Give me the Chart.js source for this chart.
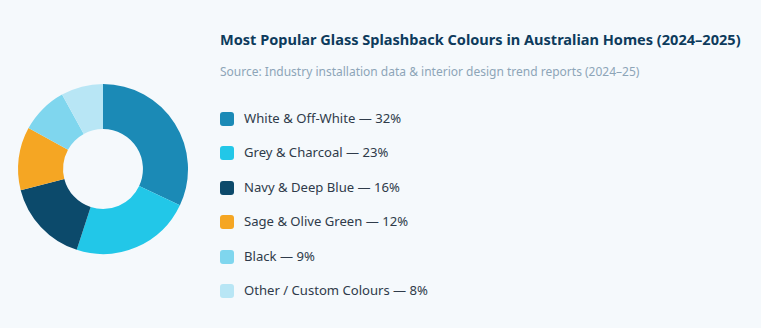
<html>
    <head>
        <script src="https://cdn.jsdelivr.net/npm/chart.js@4"></script>
        <style>
            body { margin: 0; background-color: #f5f9fc; font-family: "Noto Sans", sans-serif; }
            #wrap { position: relative; width: 761px; height: 328px; }
            #pie { position: absolute; left: 13px; top: 79px; width: 180px; height: 180px; }
            #title { position: absolute; left: 220px; top: 29px; font-size: 14.55px; font-weight: bold; color: #0d3b5c; white-space: nowrap; }
            #source { position: absolute; left: 220px; top: 63px; font-size: 12px; color: #8da5b8; white-space: nowrap; }
            #legend { position: absolute; left: 220px; top: 109px; }
            .item { height: 34.4px; display: flex; align-items: flex-start; font-size: 13.1px; color: #2f3b4a; }
            .box { width: 14px; height: 14px; border-radius: 3px; margin-top: 3px; margin-right: 10px; }
        </style>
    </head>

    <body>
        <div id="wrap">
            <div id="pie"><canvas id="plot"></canvas></div>
            <div id="title">Most Popular Glass Splashback Colours in Australian Homes (2024–2025)</div>
            <div id="source">Source: Industry installation data &amp; interior design trend reports (2024–25)</div>
            <div id="legend"></div>
        </div>

        <script>
            const categories = ['White & Off-White', 'Grey & Charcoal', 'Navy & Deep Blue', 'Sage & Olive Green', 'Black', 'Other / Custom Colours'];
            const shares = [32, 23, 16, 12, 9, 8];
            const colours = ['#1b8ab6', '#22c7e8', '#0c4a6b', '#f5a623', '#7fd6ee', '#b8e6f5'];

            // legend
            const legend = document.getElementById('legend');
            categories.forEach((c, i) => {
                legend.innerHTML += `<div class="item"><div class="box" style="background:${colours[i]}"></div>${c} — ${shares[i]}%</div>`;
            });

            new Chart(document.getElementById('plot'), {
                type: 'doughnut',
                data: {
                    labels: categories,
                    datasets: [{
                        data: shares,
                        backgroundColor: colours,
                        borderWidth: 0
                    }]
                },
                options: {
                    responsive: true,
                    maintainAspectRatio: false,
                    animation: false,
                    cutout: '47%',
                    layout: { padding: 5 },
                    plugins: {
                        legend: { display: false },
                        tooltip: { enabled: false }
                    }
                }
            });
        </script>
    </body>
</html>
